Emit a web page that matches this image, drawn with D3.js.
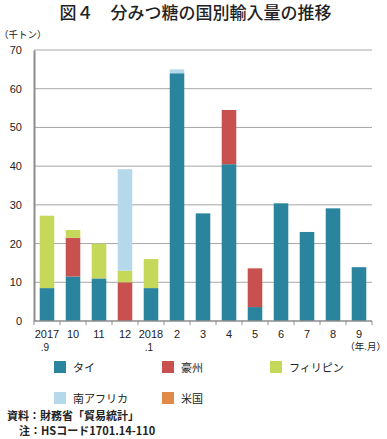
<!DOCTYPE html>
<html>
<head>
<meta charset="utf-8">
<script src="https://cdn.jsdelivr.net/npm/d3@7"></script>
<style>
  body { margin: 0; background: #fff; }
  svg { font-family: "Noto Sans CJK JP", "Noto Sans", sans-serif; }
</style>
</head>
<body>
<div id="chart"></div>
<script>
// months (year on the first line, month on the second)
var months = ["2017\n.9", "10", "11", "12", "2018\n.1", "2", "3", "4", "5", "6", "7", "8", "9"];
var thai        = [8.5, 11.5, 11, 0, 8.5, 64, 27.8, 40.5, 3.6, 30.4, 23, 29.1, 13.9];
var australia   = [0, 10, 0, 10, 0, 0, 0, 14, 10, 0, 0, 0, 0];
var philippines = [18.7, 2, 9, 3, 7.5, 0, 0, 0, 0, 0, 0, 0, 0];
var southAfrica = [0, 0, 0, 26.2, 0, 1, 0, 0, 0, 0, 0, 0, 0];
var usa         = [0, 0, 0, 0, 0, 0, 0, 0, 0, 0, 0, 0, 0];
var seriesNames = ["タイ", "豪州", "フィリピン", "南アフリカ", "米国"];
var seriesColors = ["#2a849e", "#c8504e", "#c5d85a", "#b5d8ea", "#e08a48"];
var yTicks = [0, 10, 20, 30, 40, 50, 60, 70];

var W = 387, H = 439;
var margin = {left: 34, right: 15, top: 50, bottom: 118};
var width = W - margin.left - margin.right;
var height = H - margin.top - margin.bottom;

var svg = d3.select("#chart").append("svg")
    .attr("width", W).attr("height", H);

svg.append("text")
    .attr("x", W / 2 + 2).attr("y", 19)
    .attr("text-anchor", "middle")
    .attr("font-size", 17).attr("font-weight", 500).attr("fill", "#222")
    .text("図４　分みつ糖の国別輸入量の推移");

svg.append("text")
    .attr("x", -1).attr("y", 38)
    .attr("font-size", 9.5).attr("fill", "#222")
    .text("（千トン）");

var g = svg.append("g")
    .attr("transform", "translate(" + margin.left + "," + margin.top + ")");

var x = d3.scaleBand().domain(months).range([0, width]).paddingInner(0.44).paddingOuter(0.22);
var y = d3.scaleLinear().domain([0, 70]).range([height, 0]);

// gridlines
g.selectAll("line.grid").data(yTicks.slice(1)).enter().append("line")
    .attr("x1", 0).attr("x2", width)
    .attr("y1", function(d){ return y(d); }).attr("y2", function(d){ return y(d); })
    .attr("stroke", "#a6a6a6").attr("stroke-width", 1);

// stacked data
var rows = months.map(function(m, i){
    return {month: m, s0: thai[i], s1: australia[i], s2: philippines[i], s3: southAfrica[i], s4: usa[i]};
});
var stack = d3.stack().keys(["s0", "s1", "s2", "s3", "s4"]);
var layers = stack(rows);

g.selectAll("g.layer").data(layers).enter().append("g")
    .attr("fill", function(d, i){ return seriesColors[i]; })
    .selectAll("rect").data(function(d){ return d; }).enter().append("rect")
    .attr("x", function(d){ return x(d.data.month); })
    .attr("width", x.bandwidth())
    .attr("y", function(d){ return y(d[1]); })
    .attr("height", function(d){ return y(d[0]) - y(d[1]); });

// y axis
var yAxis = g.append("g").call(d3.axisLeft(y).tickValues(yTicks).tickSize(0).tickPadding(12));
yAxis.select(".domain").attr("stroke", "#8c8c8c").attr("stroke-width", 2);
yAxis.selectAll("text").attr("font-size", 11).attr("fill", "#222")
    .attr("font-family", "Liberation Sans, Arial, sans-serif");

// x axis
var step = x.step();
var xAxisG = g.append("g").attr("transform", "translate(0," + height + ")");
xAxisG.append("line").attr("x1", 0).attr("x2", width).attr("stroke", "#8c8c8c").attr("stroke-width", 1.5);
xAxisG.selectAll("line.tick").data(d3.range(months.length + 1)).enter().append("line")
    .attr("x1", function(i){ return i * step; }).attr("x2", function(i){ return i * step; })
    .attr("y1", 0).attr("y2", 4).attr("stroke", "#8c8c8c");
var lbl = xAxisG.selectAll("text.lbl").data(months).enter().append("text")
    .attr("text-anchor", "middle")
    .attr("font-size", 11).attr("fill", "#222")
    .attr("font-family", "Liberation Sans, Arial, sans-serif");
lbl.each(function(d){
    var parts = d.split("\n");
    var t = d3.select(this);
    var cx = x(d) + x.bandwidth() / 2;
    t.append("tspan").attr("x", cx).attr("y", 17).text(parts[0]);
    if (parts[1]) t.append("tspan").attr("x", cx - 2).attr("y", 30).attr("font-size", 10).text(parts[1]);
});
xAxisG.append("text")
    .attr("x", width + 14).attr("y", 29)
    .attr("text-anchor", "end").attr("font-size", 9.5).attr("fill", "#222")
    .text("（年.月）");

// legend
var legend = svg.append("g");
var legendPos = [[54, 361], [162, 361], [270, 361], [54, 392], [162, 392]];
seriesNames.forEach(function(name, i){
    var p = legendPos[i];
    legend.append("rect").attr("x", p[0]).attr("y", p[1]).attr("width", 12).attr("height", 12)
        .attr("fill", seriesColors[i]);
    legend.append("text").attr("x", p[0] + 19).attr("y", p[1] + 10.5)
        .attr("font-size", 11).attr("fill", "#222").text(name);
});

// source notes
svg.append("text").attr("x", 7).attr("y", 420)
    .attr("font-size", 11).attr("font-weight", "bold").attr("fill", "#222")
    .text("資料：財務省「貿易統計」");
svg.append("text").attr("x", 19).attr("y", 435)
    .attr("font-size", 11).attr("font-weight", "bold").attr("fill", "#222")
    .text("注：HSコード1701.14-110");
</script>
</body>
</html>
